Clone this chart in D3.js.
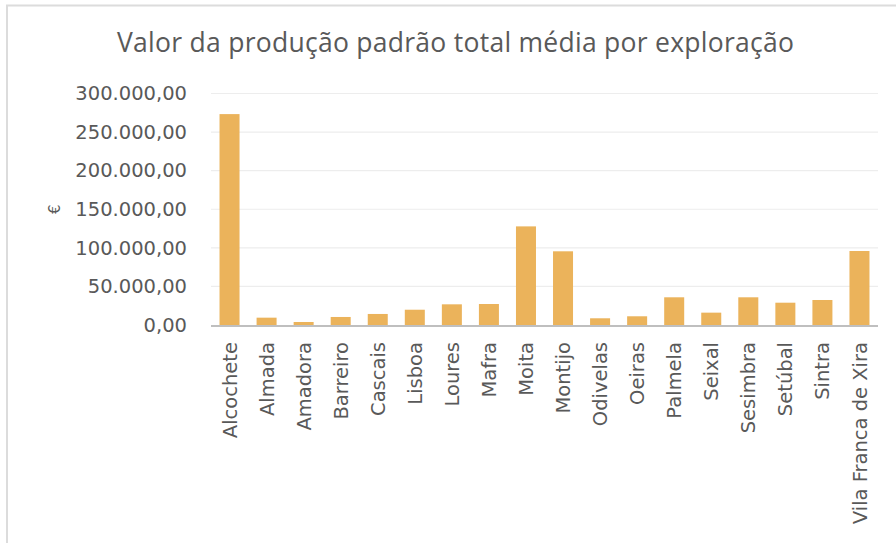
<!DOCTYPE html>
<html>
<head>
<meta charset="utf-8">
<script src="https://cdn.jsdelivr.net/npm/d3@7"></script>
<style>
  body { margin: 0; background: #fff; }
  text { font-family: "DejaVu Sans", sans-serif; fill: #595959; }
</style>
</head>
<body>
<svg width="896" height="543"></svg>
<script>
var categories = ["Alcochete", "Almada", "Amadora", "Barreiro", "Cascais", "Lisboa", "Loures",
  "Mafra", "Moita", "Montijo", "Odivelas", "Oeiras", "Palmela", "Seixal", "Sesimbra",
  "Setúbal", "Sintra", "Vila Franca de Xira"];
var values = [273300, 9500, 3900, 10400, 14300, 19800, 26800, 27200, 127800, 95500,
  8700, 11300, 35900, 16000, 35900, 28900, 32400, 95900];
var yTicks = [0, 50000, 100000, 150000, 200000, 250000, 300000];
var title = "Valor da produção padrão total média por exploração";
var yLabel = "€";

var svg = d3.select("svg"),
    width = +svg.attr("width"),
    height = +svg.attr("height");

var margin = { top: 93.5, left: 211, right: 18, bottom: 218 };

var locale = d3.formatLocale({ decimal: ",", thousands: ".", grouping: [3], currency: ["", " €"] });
var fmt = locale.format(",.2f");

// chart frame (only top and left edges are inside the picture)
svg.append("path")
  .attr("d", "M7,543V5.5H896")
  .attr("fill", "none").attr("stroke", "#dcdcdc").attr("stroke-width", 2);

var x = d3.scaleBand()
  .domain(categories)
  .range([margin.left, width - margin.right])
  .paddingInner(0.46).paddingOuter(0.23);

var y = d3.scaleLinear()
  .domain([0, 300000])
  .range([height - margin.bottom, margin.top]);

// gridlines
svg.append("g")
  .selectAll("line")
  .data(yTicks.slice(1))
  .enter().append("line")
  .attr("x1", margin.left).attr("x2", width - margin.right)
  .attr("y1", d => y(d)).attr("y2", d => y(d))
  .attr("stroke", "#ededed").attr("stroke-width", 1.2);

// y axis labels
var yAxis = svg.append("g")
  .attr("transform", "translate(" + (margin.left - 24) + ",0)")
  .call(d3.axisLeft(y).tickValues(yTicks).tickFormat(fmt).tickSize(0));
yAxis.select(".domain").remove();
yAxis.selectAll("text")
  .attr("x", 0)
  .style("font-size", "19.5px")
  .style("font-family", "\"DejaVu Sans\", sans-serif")
  .attr("fill", "#595959");

// bars
svg.append("g")
  .selectAll("rect")
  .data(categories)
  .enter().append("rect")
  .attr("x", d => x(d))
  .attr("y", (d, i) => y(values[i]))
  .attr("width", x.bandwidth())
  .attr("height", (d, i) => y(0) - y(values[i]))
  .attr("fill", "#ebb35b");

// baseline
svg.append("line")
  .attr("x1", margin.left).attr("x2", width - margin.right)
  .attr("y1", y(0) + 1).attr("y2", y(0) + 1)
  .attr("stroke", "#bfbfbf").attr("stroke-width", 2);

// x axis labels
var xAxis = svg.append("g")
  .attr("transform", "translate(0," + y(0) + ")")
  .call(d3.axisBottom(x).tickSize(0));
xAxis.select(".domain").remove();
xAxis.selectAll("text")
  .attr("transform", "rotate(-90)")
  .attr("text-anchor", "end")
  .attr("x", -17)
  .attr("y", 0)
  .attr("dy", "0.36em")
  .style("font-size", "19.5px")
  .style("font-family", "\"DejaVu Sans\", sans-serif")
  .attr("fill", "#595959");

// y axis title
svg.append("text")
  .attr("transform", "translate(60," + y(150000) + ") rotate(-90)")
  .attr("text-anchor", "middle")
  .style("font-size", "15px")
  .attr("fill", "#7a6a55")
  .text(yLabel);

// title
svg.append("text")
  .attr("x", 455.5).attr("y", 52)
  .attr("text-anchor", "middle")
  .attr("textLength", 677)
  .attr("lengthAdjust", "spacing")
  .style("font-size", "26.5px")
  .style("font-family", "\"Open Sans\", sans-serif")
  .text(title);
</script>
</body>
</html>
